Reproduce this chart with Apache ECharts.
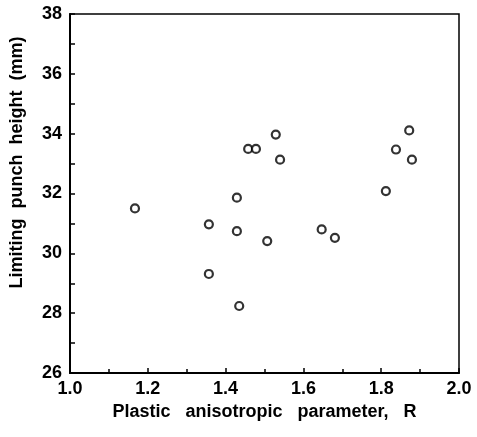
<!DOCTYPE html>
<html>
<head>
    <meta charset='utf-8' />
    <title>Limiting punch height vs R</title>
    <style>
        body { margin: 0; padding: 0; background: #fff; }
        #chart { width: 477px; height: 437px; }
    </style>
    <script src="https://cdn.jsdelivr.net/npm/echarts@6/dist/echarts.min.js"></script>
</head>
<body>
    <div id='chart'></div>
    <script type="text/javascript">
        // plastic anisotropic parameter R (x) and limiting punch height in mm (y)
        var rValues = [1.167, 1.357, 1.357, 1.429, 1.429, 1.435, 1.458, 1.478, 1.529, 1.540, 1.507, 1.647, 1.681, 1.812, 1.838, 1.872, 1.879];
        var heightValues = [31.50, 30.97, 29.31, 31.86, 30.74, 28.24, 33.49, 33.49, 33.97, 33.13, 30.41, 30.80, 30.52, 32.08, 33.47, 34.11, 33.13];
        var xTicks = [1.0, 1.2, 1.4, 1.6, 1.8, 2.0];
        var yTicks = [26, 28, 30, 32, 34, 36, 38];

        var points = rValues.map(function (r, i) { return [r, heightValues[i]]; });

        var labelFont = { color: '#000', fontFamily: 'Liberation Sans', fontWeight: 'bold', fontSize: 18 };

        var chart = echarts.init(document.getElementById('chart'));
        chart.setOption({
            animation: false,
            backgroundColor: '#fff',
            grid: {
                left: 70, top: 14, right: 18, bottom: 64,
                show: true, borderColor: '#000', borderWidth: 1.5
            },
            xAxis: {
                type: 'value',
                min: xTicks[0], max: xTicks[xTicks.length - 1], interval: 0.2,
                name: 'Plastic   anisotropic   parameter,   R',
                nameLocation: 'middle', nameGap: 29,
                nameTextStyle: { color: '#000', fontFamily: 'Liberation Sans', fontWeight: 'bold', fontSize: 18 },
                axisLine: { lineStyle: { color: '#000', width: 2 } },
                axisTick: { inside: true, length: 5, lineStyle: { color: '#000', width: 1.5 } },
                minorTick: { show: true, splitNumber: 2, length: 4, lineStyle: { color: '#000', width: 1.5 } },
                axisLabel: Object.assign({ margin: 7, formatter: function (v) { return v.toFixed(1); } }, labelFont),
                splitLine: { show: false }
            },
            yAxis: {
                type: 'value',
                min: yTicks[0], max: yTicks[yTicks.length - 1], interval: 2,
                name: 'Limiting  punch  height  (mm)',
                nameLocation: 'middle', nameGap: 44,
                nameTextStyle: { color: '#000', fontFamily: 'Liberation Sans', fontWeight: 'bold', fontSize: 18, padding: [0, 0, 0, 62] },
                axisLine: { lineStyle: { color: '#000', width: 2 } },
                axisTick: { inside: true, length: 5, lineStyle: { color: '#000', width: 1.5 } },
                minorTick: { show: true, splitNumber: 2, length: 5, lineStyle: { color: '#000', width: 1.5 } },
                axisLabel: Object.assign({ margin: 8 }, labelFont),
                splitLine: { show: false }
            },
            series: [{
                type: 'scatter',
                data: points,
                symbol: 'circle',
                symbolSize: 8,
                itemStyle: { color: '#fff', borderColor: '#000', borderWidth: 2.2 }
            }]
        });
    </script>
</body>
</html>
